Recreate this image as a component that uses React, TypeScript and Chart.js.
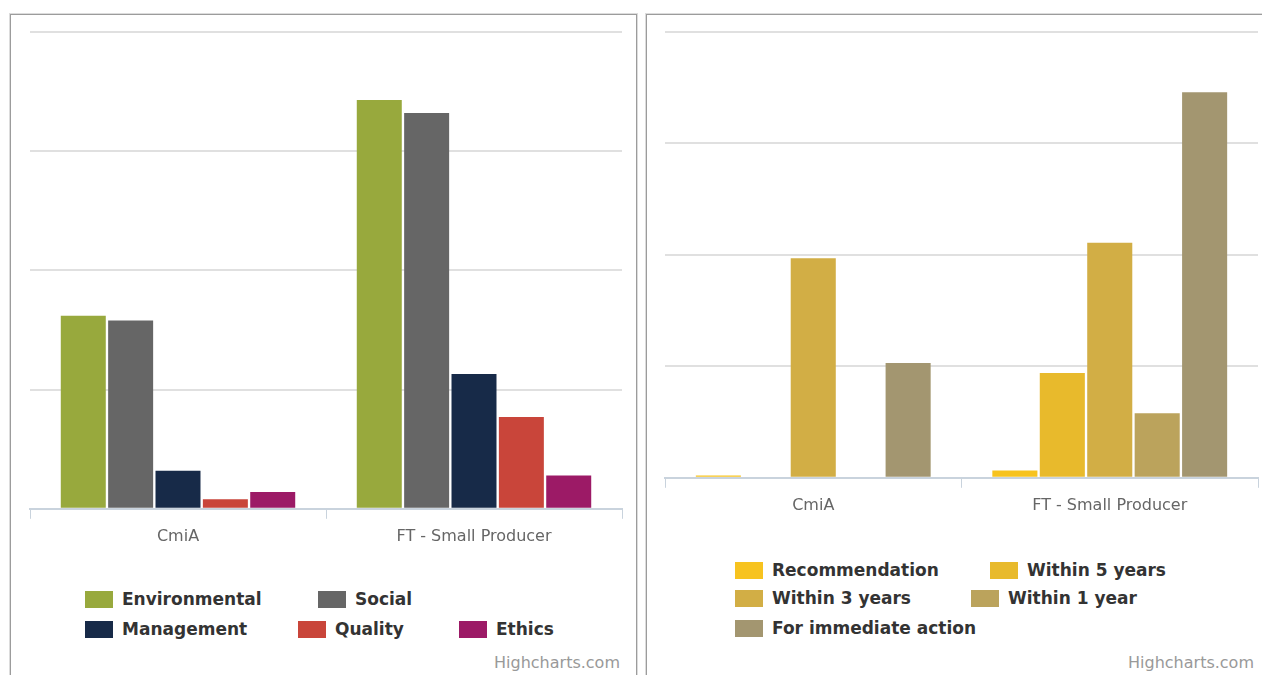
import React, { useEffect, useRef } from 'react';
import { Chart, registerables } from 'chart.js';

Chart.register(...registerables);

// ---------- data ----------
const categories = ['CmiA', 'FT - Small Producer'];

const leftSeriesNames = ['Environmental', 'Social', 'Management', 'Quality', 'Ethics'];
const environmental = [16.2, 34.3];
const social = [15.8, 33.2];
const management = [3.2, 11.3];
const quality = [0.8, 7.7];
const ethics = [1.4, 2.8];

const rightSeriesNames = ['Recommendation', 'Within 5 years', 'Within 3 years', 'Within 1 year', 'For immediate action'];
const recommendation = [0.2, 0.65];
const within5Years = [0, 9.4];
const within3Years = [19.7, 21.1];
const within1Year = [0, 5.8];
const immediateAction = [10.3, 34.6];

const yMax = 40;
const yStep = 10;
const creditText = 'Highcharts.com';

// ---------- styles ----------
const leftColors = ['#98a93d', '#666666', '#172a48', '#c9453a', '#9c1a66'];
const rightColors = ['#f7c31f', '#e8ba2c', '#d2ae45', '#bba35c', '#a39670'];

const FONT = '"DejaVu Sans", Verdana, sans-serif';

type Pad = { left: number; right: number; top: number; bottom: number };

function BarChart(props: {
  names: string[];
  series: number[][];
  colors: string[];
  width: number;
  height: number;
  padding: Pad;
}) {
  const ref = useRef<HTMLCanvasElement | null>(null);
  useEffect(() => {
    if (!ref.current) return;
    const chart = new Chart(ref.current, {
      type: 'bar',
      data: {
        labels: categories,
        datasets: props.names.map((n, i) => ({
          label: n,
          data: props.series[i],
          backgroundColor: props.colors[i],
          borderWidth: 0,
          categoryPercentage: 0.8,
          barPercentage: 0.95,
        })),
      },
      options: {
        animation: false,
        responsive: false,
        maintainAspectRatio: false,
        events: [],
        layout: { padding: props.padding },
        plugins: {
          legend: { display: false },
          tooltip: { enabled: false },
          title: { display: false },
        },
        scales: {
          x: {
            offset: true,
            grid: {
              display: true,
              offset: true,
              drawOnChartArea: false,
              drawTicks: true,
              tickLength: 10,
              color: '#c9d3dd',
              lineWidth: 1,
            },
            border: { display: true, color: '#c9d3dd', width: 2 },
            ticks: {
              color: '#666666',
              font: { family: FONT, size: 16 },
              padding: 8,
              maxRotation: 0,
            },
          },
          y: {
            min: 0,
            max: yMax,
            ticks: { display: false, stepSize: yStep },
            grid: { color: '#e0e0e0', lineWidth: 2, drawTicks: false },
            border: { display: false },
          },
        },
      },
    });
    return () => chart.destroy();
  }, []);
  return (
    <canvas
      ref={ref}
      width={props.width}
      height={props.height}
      style={{ position: 'absolute', left: 0, top: 0, width: props.width, height: props.height }}
    />
  );
}

function Legend(props: { names: string[]; colors: string[]; spots: number[][] }) {
  return (
    <>
      {props.names.map((n, i) => (
        <div
          key={n}
          style={{
            position: 'absolute',
            left: props.spots[i][0],
            top: props.spots[i][1] - 11,
            height: 22,
            display: 'flex',
            alignItems: 'center',
            whiteSpace: 'nowrap',
          }}
        >
          <div style={{ width: 28, height: 17, background: props.colors[i], marginRight: 9 }} />
          <span style={{ font: `bold 17px ${FONT}`, color: '#333333' }}>{n}</span>
        </div>
      ))}
    </>
  );
}

function Credit(props: { right: number; y: number }) {
  return (
    <div
      style={{
        position: 'absolute',
        right: props.right,
        top: props.y - 10,
        height: 20,
        lineHeight: '20px',
        font: `16px ${FONT}`,
        color: '#999999',
        whiteSpace: 'nowrap',
      }}
    >
      {creditText}
    </div>
  );
}

const panelStyle: React.CSSProperties = {
  position: 'absolute',
  top: 14,
  width: 627,
  height: 700,
  boxSizing: 'border-box',
  border: '1px solid #9c9c9c',
  boxShadow: '0 0 0 1px #dcdcdc',
  background: '#ffffff',
  overflow: 'hidden',
};

export default function App() {
  return (
    <div
      style={{
        position: 'fixed',
        left: 0,
        top: 0,
        width: 1262,
        height: 675,
        overflow: 'hidden',
        background: '#ffffff',
      }}
    >
      <div style={{ ...panelStyle, left: 10 }}>
        <BarChart
          names={leftSeriesNames}
          series={[environmental, social, management, quality, ethics]}
          colors={leftColors}
          width={625}
          height={547}
          padding={{ left: 19, right: 14, top: 17, bottom: 8 }}
        />
        <Legend
          names={leftSeriesNames}
          colors={leftColors}
          spots={[
            [74, 584],
            [307, 584],
            [74, 614],
            [287, 614],
            [448, 614],
          ]}
        />
        <Credit right={16} y={648} />
      </div>
      <div style={{ ...panelStyle, left: 646 }}>
        <BarChart
          names={rightSeriesNames}
          series={[recommendation, within5Years, within3Years, within1Year, immediateAction]}
          colors={rightColors}
          width={625}
          height={516}
          padding={{ left: 18, right: 14, top: 17, bottom: 8 }}
        />
        <Legend
          names={rightSeriesNames}
          colors={rightColors}
          spots={[
            [88, 555],
            [343, 555],
            [88, 583],
            [324, 583],
            [88, 613],
          ]}
        />
        <Credit right={18} y={648} />
      </div>
    </div>
  );
}
